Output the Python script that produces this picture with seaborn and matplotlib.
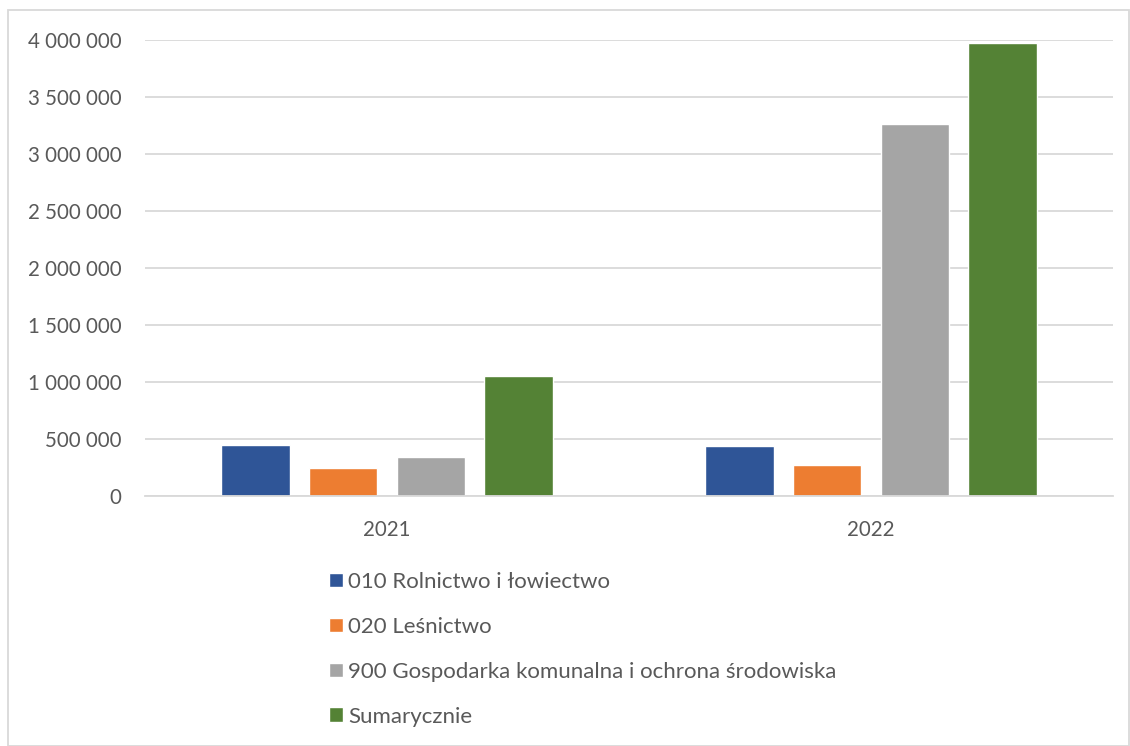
import numpy as np
import pandas as pd
import matplotlib.pyplot as plt
import matplotlib.ticker as mticker
from matplotlib.patches import Rectangle
import seaborn as sns

# values
years = ['2021', '2022']
series = ['010 Rolnictwo i łowiectwo', '020 Leśnictwo',
          '900 Gospodarka komunalna i ochrona środowiska', 'Sumarycznie']
rolnictwo = [447000, 436000]
lesnictwo = [243000, 269000]
gospodarka = [342000, 3260000]
sumarycznie = [1050000, 3976000]
colors = ['#2f5597', '#ed7d31', '#a5a5a5', '#548235']

rows = []
for name, vals in zip(series, [rolnictwo, lesnictwo, gospodarka, sumarycznie]):
    for y, v in zip(years, vals):
        rows.append({'rok': y, 'seria': name, 'wartosc': v})
df = pd.DataFrame(rows)

sns.set_style('white')
plt.rcParams['font.family'] = ['Lato', 'DejaVu Sans']
text_color = '#595959'

fig = plt.figure(figsize=(11.3, 7.46), dpi=100)
ax = fig.add_axes([145 / 1130, 1 - 496 / 746, (1113 - 145) / 1130, (496 - 40) / 746])

sns.barplot(data=df, x='rok', y='wartosc', hue='seria', hue_order=series,
            palette=colors, saturation=1, width=0.727, gap=0.216, ax=ax, legend=True)

ax.set_ylim(0, 4000000)
ax.set_yticks(np.arange(0, 4000001, 500000))
ax.yaxis.set_major_formatter(mticker.FuncFormatter(lambda v, p: f'{int(v):,}'.replace(',', ' ')))
ax.grid(axis='y', color='#d9d9d9', linewidth=1.3)
ax.set_axisbelow(True)
for s in ['top', 'right', 'left']:
    ax.spines[s].set_visible(False)
ax.spines['bottom'].set_color('#d9d9d9')
ax.spines['bottom'].set_linewidth(1.3)
ax.tick_params(axis='both', length=0, labelsize=14.8, labelcolor=text_color)
ax.tick_params(axis='y', pad=17)
ax.tick_params(axis='x', pad=17)
ax.set_xlabel('')
ax.set_ylabel('')

handles, labels = ax.get_legend_handles_labels()
ax.legend(handles, labels, loc='upper left', bbox_to_anchor=(320 / 1130, 1 - 563 / 746),
          bbox_transform=fig.transFigure, frameon=False, fontsize=16,
          labelcolor=text_color, handlelength=0.63, handleheight=0.63,
          handletextpad=0.25, labelspacing=1.12, borderaxespad=0)

# light frame around the chart area
fig.patches.append(Rectangle((8 / 1130, 0), 1 - 8 / 1130 - 0.001, 1 - 10 / 746, transform=fig.transFigure,
                             fill=False, edgecolor='#d9d9d9', linewidth=1.3))

fig.savefig('out.png', dpi=100)
